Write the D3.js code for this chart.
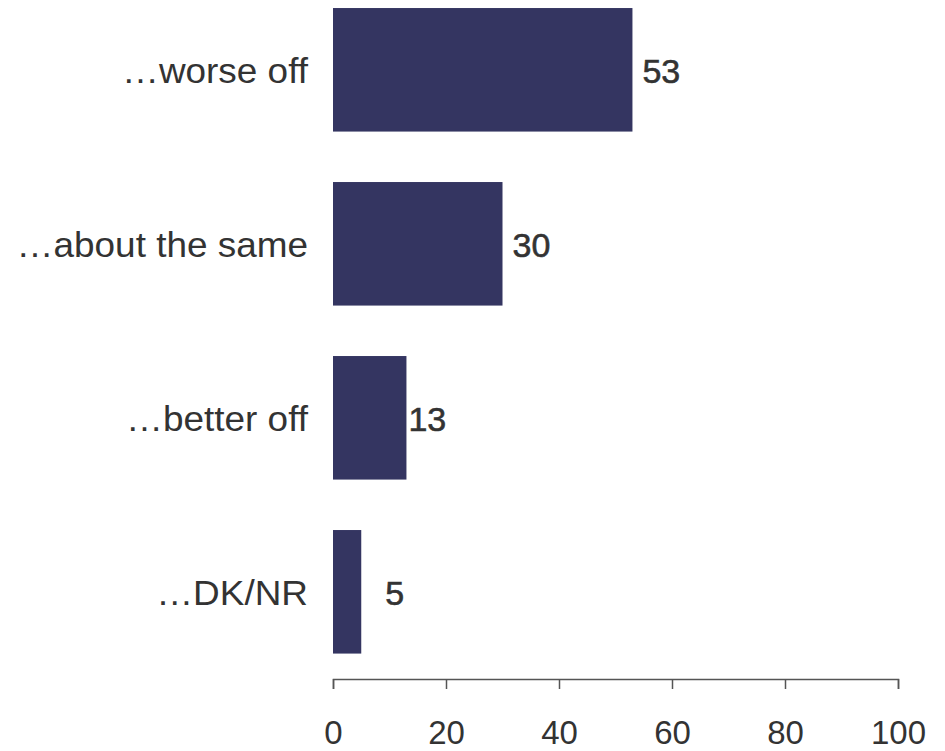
<!DOCTYPE html>
<html><head><meta charset="utf-8">
<script src="https://cdn.jsdelivr.net/npm/d3@7"></script>
<style>body{margin:0;background:#fff;} text{font-family:"Liberation Sans",Arial,sans-serif;}</style>
</head><body>
<svg id="c" width="945" height="751"></svg>
<script>
const categories = ["…worse off", "…about the same", "…better off", "…DK/NR"];
const values = [53, 30, 13, 5];
const tickValues = [0, 20, 40, 60, 80, 100];

const svg = d3.select("#c");
const x = d3.scaleLinear().domain([0, 100]).range([333, 898]);
const y = d3.scaleBand().domain(categories).range([-17.2, 678.8]).paddingInner(0.29).paddingOuter(0.145);

svg.selectAll("rect.bar").data(values).join("rect")
  .attr("class", "bar")
  .attr("x", x(0))
  .attr("y", (d, i) => y(categories[i]))
  .attr("width", d => x(d) - x(0))
  .attr("height", y.bandwidth())
  .attr("fill", "#343561");

const nudge = [10, 10, 2, 24];
svg.selectAll("text.val").data(values).join("text")
  .attr("class", "val")
  .attr("x", (d, i) => x(d) + nudge[i])
  .attr("y", (d, i) => y(categories[i]) + y.bandwidth() / 2)
  .attr("dy", "0.4em")
  .attr("font-size", 34)
  .attr("fill", "#333")
  .attr("stroke", "#333").attr("stroke-width", 0.6)
  .text(d => d);

svg.selectAll("text.cat").data(categories).join("text")
  .attr("class", "cat")
  .attr("transform", d => `translate(308,${y(d) + y.bandwidth() / 2}) scale(1.055,1)`)
  .attr("dy", "0.39em")
  .attr("text-anchor", "end")
  .attr("font-size", 35)
  .attr("fill", "#333")
  .text(d => d);

const axis = svg.append("g").attr("transform", "translate(0,679)")
  .call(d3.axisBottom(x).tickValues(tickValues).tickSize(10).tickPadding(32).tickSizeOuter(10));
axis.select(".domain").attr("stroke", "#555").attr("stroke-width", 1.5);
axis.selectAll(".tick line").attr("stroke", "#555").attr("stroke-width", 1.5);
axis.selectAll(".tick text").attr("font-size", 33).attr("fill", "#333")
  .attr("font-family", "'Liberation Sans',Arial,sans-serif");
</script>
</body></html>
